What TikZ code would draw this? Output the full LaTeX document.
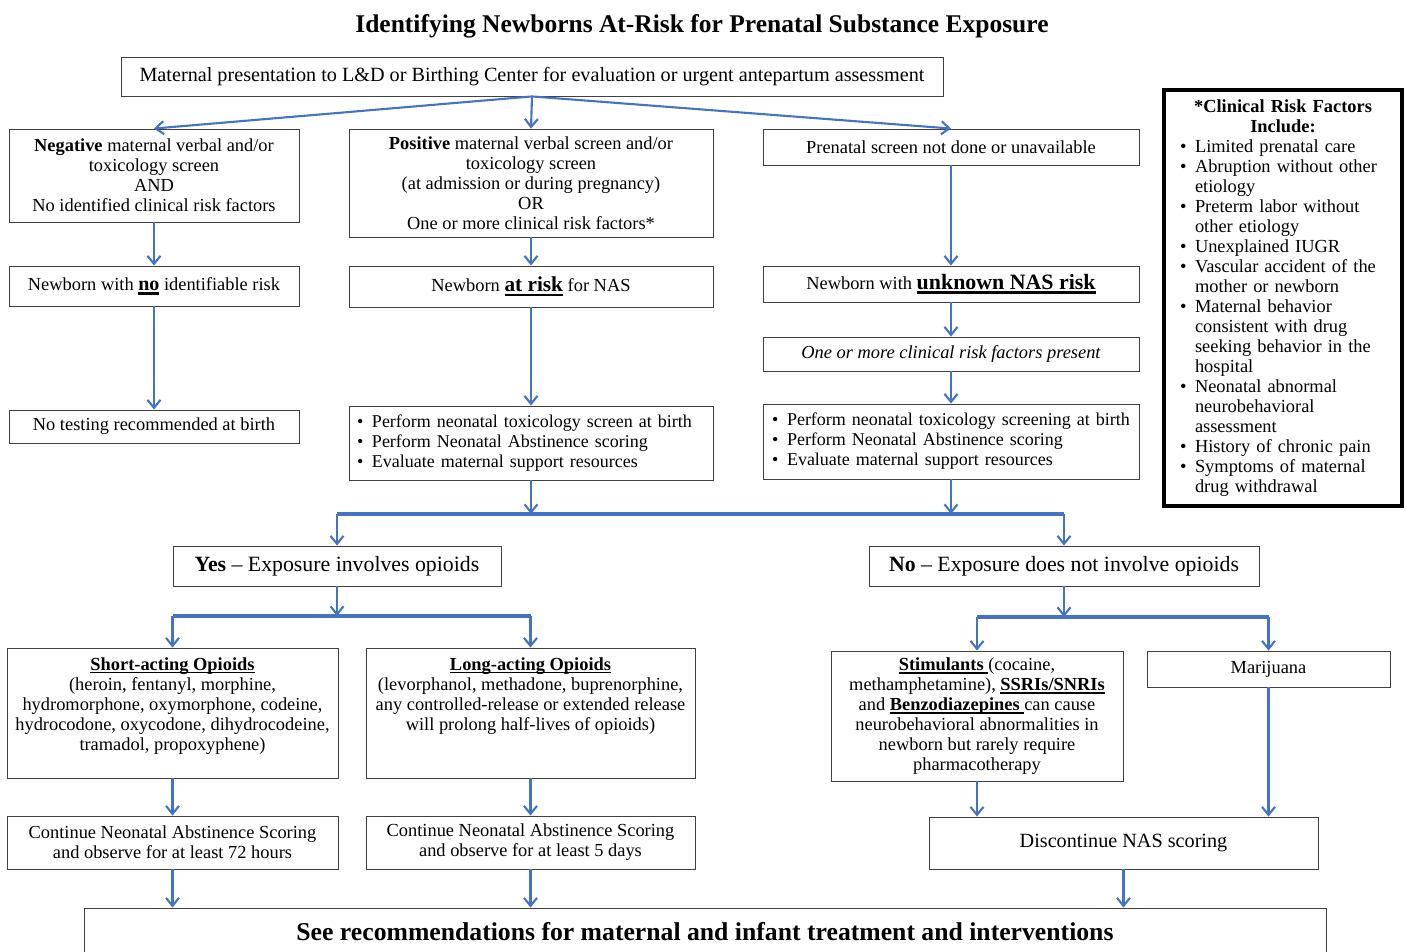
\documentclass[tikz,border=0pt]{standalone}
\usepackage{fontspec}
\setmainfont{Liberation Serif}
\usetikzlibrary{arrows.meta}
\definecolor{Nblue}{HTML}{4472C4}
\tikzset{%
    Nbox/.style={draw=black!75, line width=0.9pt, inner sep=0pt, align=center,
        font=\fontsize{18.4}{20}\selectfont},
    Nsize/.style 2 args={minimum width=#1pt, minimum height=#2pt},
    Nlist/.style={Nbox, align=left, text width=#1},
    Narrow/.style={draw=Nblue, line width=2.1pt, -{Straight Barb[length=8pt,width=13pt]}},
    Nbus/.style={draw=Nblue, line width=3.2pt}
}
% thick underline: [thickness]{text}
\newcommand{\Nul}[2][1.3pt]{\leavevmode\setbox0\hbox{#2}%
    \rlap{\vrule width\wd0 height -1.8pt depth \dimexpr 1.8pt+#1\relax}\box0}
% bullet line and continuation line
\newcommand{\Nli}[1]{\mbox{\makebox[17pt][l]{\hspace{2pt}\textbullet}#1}}
\newcommand{\Nlc}[1]{\mbox{\hspace*{17pt}#1}}

\begin{document}
\begin{tikzpicture}[x=1pt, y=-1pt]
    \useasboundingbox (0,0) rectangle (1406,952);

    \node[font=\fontsize{25.5}{28}\selectfont\bfseries] (title) at (702,26)
        {Identifying Newborns At-Risk for Prenatal Substance Exposure};

    % top box
    \node[Nbox, Nsize={822}{39}, font=\fontsize{20.2}{22}\selectfont] (mat) at (532,76.5)
        {Maternal presentation to L\&D or Birthing Center for evaluation or urgent antepartum assessment};

    % left column ("negative screen")
    \node[Nbox, Nsize={290}{93}] (neg) at (154,175.5)
        {\textbf{Negative} maternal verbal and/or\\ toxicology screen\\ AND\\ No identified clinical risk factors};
    \node[Nbox, Nsize={290}{40}] (nono) at (154,286)
        {Newborn with {\fontsize{20}{20}\selectfont\Nul[2.5pt]{\textbf{no}}} identifiable risk};
    \node[Nbox, Nsize={290}{33}] (notest) at (154,426.5)
        {No testing recommended at birth};

    % middle column ("positive screen")
    \node[Nbox, Nsize={364}{108}] (pos) at (531,183)
        {\textbf{Positive} maternal verbal screen and/or\\ toxicology screen\\ (at admission or during pregnancy)\\ OR\\ One or more clinical risk factors*};
    \node[Nbox, Nsize={364}{41}] (atrisk) at (531,286.5)
        {Newborn {\fontsize{21.3}{20}\selectfont\Nul[2.5pt]{\textbf{at risk}}} for NAS};
    \node[Nlist=352pt, inner xsep=6pt, minimum height=74pt, font=\fontsize{18}{20}\selectfont] (perf1) at (531,443)
        {\Nli{Perform neonatal toxicology screen at birth}\\
         \Nli{Perform Neonatal Abstinence scoring}\\
         \Nli{Evaluate maternal support resources}};

    % right column ("no screen")
    \node[Nbox, Nsize={376}{36}] (pre) at (951,147)
        {Prenatal screen not done or unavailable};
    \node[Nbox, Nsize={376}{36}] (unk) at (951,284)
        {Newborn with {\fontsize{21.9}{20}\selectfont\Nul[2.5pt]{\textbf{unknown NAS risk}}}};
    \node[Nbox, Nsize={376}{34}] (onemore) at (951,354)
        {\itshape One or more clinical risk factors present};
    \node[Nlist=362pt, inner xsep=7pt, minimum height=75pt, font=\fontsize{18}{20}\selectfont] (perf2) at (951,441.5)
        {\Nli{Perform neonatal toxicology screening at birth}\\
         \Nli{Perform Neonatal Abstinence scoring}\\
         \Nli{Evaluate maternal support resources}};

    % side box
    \node[Nlist=210pt, draw=black, line width=3.5pt, inner xsep=14pt, minimum height=416pt] (risk) at (1283,298)
        {{\centering\textbf{*Clinical Risk Factors\\ Include:}\par}
         \Nli{Limited prenatal care}\\
         \Nli{Abruption without other}\\ \Nlc{etiology}\\
         \Nli{Preterm labor without}\\ \Nlc{other etiology}\\
         \Nli{Unexplained IUGR}\\
         \Nli{Vascular accident of the}\\ \Nlc{mother or newborn}\\
         \Nli{Maternal behavior}\\ \Nlc{consistent with drug}\\ \Nlc{seeking behavior in the}\\ \Nlc{hospital}\\
         \Nli{Neonatal abnormal}\\ \Nlc{neurobehavioral}\\ \Nlc{assessment}\\
         \Nli{History of chronic pain}\\
         \Nli{Symptoms of maternal}\\ \Nlc{drug withdrawal}};

    % opioid split
    \node[Nbox, Nsize={328}{40}, font=\fontsize{21.8}{24}\selectfont] (yes) at (337,566)
        {\textbf{Yes} -- Exposure involves opioids};
    \node[Nbox, Nsize={390}{40}, font=\fontsize{21.8}{24}\selectfont] (no) at (1064,566)
        {\textbf{No} -- Exposure does not involve opioids};

    \node[Nbox] (short) at (172.5,713)
        {\parbox[c][130pt][t]{331pt}{\centering\rule{0pt}{22pt}\Nul{\textbf{Short-acting Opioids}}\\
         (heroin, fentanyl, morphine,\\ hydromorphone, oxymorphone, codeine,\\
         hydrocodone, oxycodone, dihydrocodeine,\\ tramadol, propoxyphene)}};
    \node[Nbox] (long) at (530.5,713)
        {\parbox[c][130pt][t]{329pt}{\centering\rule{0pt}{22pt}\Nul{\textbf{Long-acting Opioids}}\\
         (levorphanol, methadone, buprenorphine,\\ any controlled-release or extended release\\
         will prolong half-lives of opioids)}};
    \node[Nbox, Nsize={292}{130}] (stim) at (977,716)
        {\Nul{\textbf{Stimulants} }(cocaine,\\ methamphetamine), \Nul{\textbf{SSRIs/SNRIs}}\\
         and \Nul{\textbf{Benzodiazepines} }can cause\\ neurobehavioral abnormalities in\\
         newborn but rarely require\\ pharmacotherapy};
    \node[Nbox, Nsize={243}{36}] (mari) at (1268.5,669) {Marijuana};

    \node[Nbox, Nsize={331}{53}] (cont1) at (172.5,842.5)
        {Continue Neonatal Abstinence Scoring\\ and observe for at least 72 hours};
    \node[Nbox, Nsize={329}{53}] (cont2) at (530.5,842.5)
        {Continue Neonatal Abstinence Scoring\\ and observe for at least 5 days};
    \node[Nbox, Nsize={389}{52}, font=\fontsize{20.2}{22}\selectfont] (disc) at (1123.5,843)
        {Discontinue NAS scoring};

    \node[Nbox, Nsize={1242}{48}, font=\fontsize{25.7}{28}\selectfont\bfseries] (seerec) at (705,932)
        {See recommendations for maternal and infant treatment and interventions};

    % levels of the horizontal bars
    \path
        (0,514) coordinate (busA)
        (0,616) coordinate (busB)
        (0,617) coordinate (busC);

    % connectors
    \foreach \cA in {neg,pos,pre}
        \draw[Narrow] (mat.south) -- (\cA.north);

    \foreach \cA/\cB in {neg/nono, nono/notest, pos/atrisk, atrisk/perf1,
                         pre/unk, unk/onemore, onemore/perf2,
                         short/cont1, long/cont2, stim/disc, mari/disc,
                         cont1/seerec, cont2/seerec, disc/seerec}
        \draw[Narrow] (\cA.south) -- (\cA.south |- \cB.north);

    \foreach \cA in {perf1,perf2}
        \draw[Narrow] (\cA.south) -- (\cA.south |- busA);
    \draw[Nbus] (yes.north |- busA) -- (no.north |- busA);
    \foreach \cA in {yes,no}
        \draw[Narrow] (\cA.north |- busA) -- (\cA.north);

    \draw[Narrow] (yes.south) -- (yes.south |- busB);
    \draw[Nbus] (short.north |- busB) -- (long.north |- busB);
    \foreach \cA in {short,long}
        \draw[Narrow] (\cA.north |- busB) -- (\cA.north);

    \draw[Narrow] (no.south) -- (no.south |- busC);
    \draw[Nbus] (stim.north |- busC) -- (mari.north |- busC);
    \foreach \cA in {stim,mari}
        \draw[Narrow] (\cA.north |- busC) -- (\cA.north);
\end{tikzpicture}
\end{document}
